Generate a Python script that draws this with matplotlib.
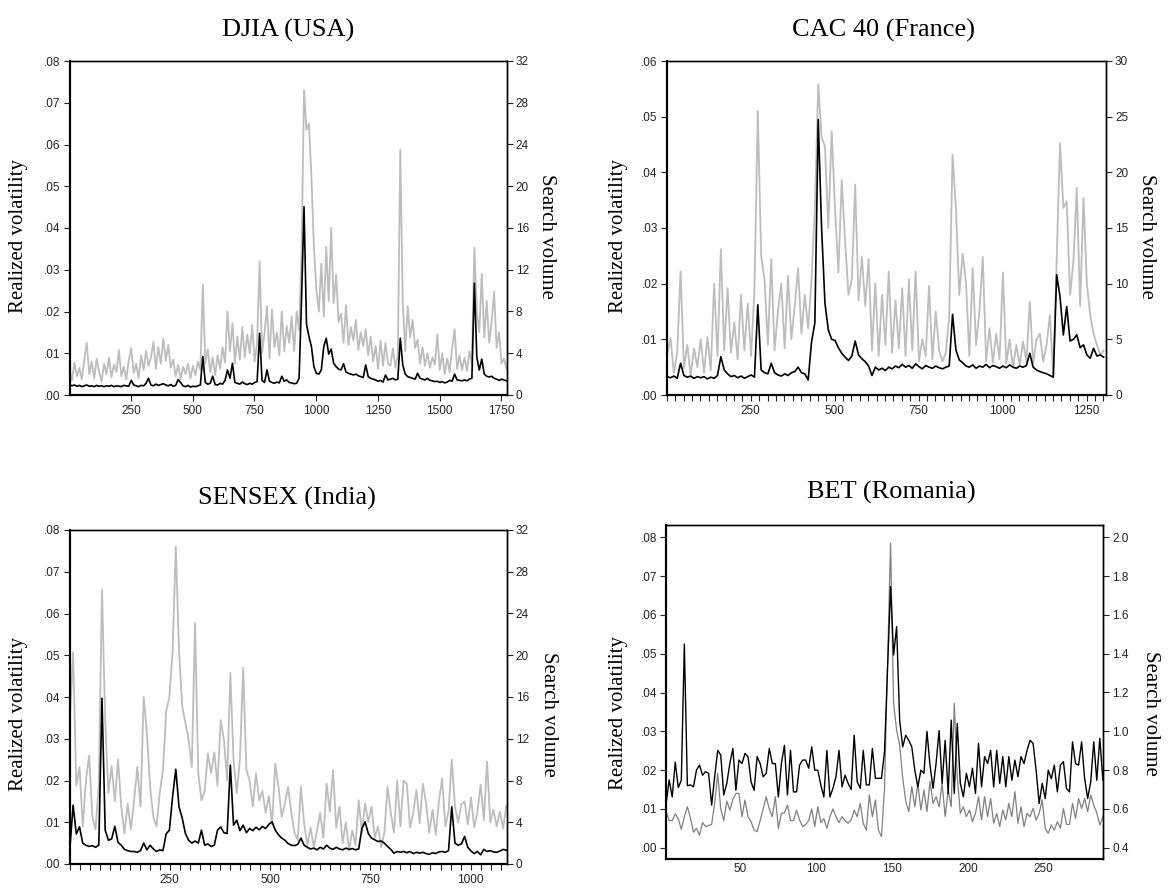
import matplotlib
matplotlib.use("Agg")
import matplotlib.pyplot as plt
from matplotlib.ticker import MultipleLocator, FuncFormatter
import numpy as np

# ---- DJIA (USA): one value every 10 obs, starting at obs 1
djia_step = 10
djia_search = [
    2.5, 1.4, 3.1, 1.8, 2.6, 1.5, 3.4, 5.0, 2.0, 3.2,
    1.6, 3.5, 2.2, 1.3, 3.0, 2.0, 3.6, 1.7, 2.9, 2.2,
    4.3, 1.8, 2.7, 1.5, 3.3, 4.5, 2.1, 3.0, 1.6, 3.8,
    2.4, 4.2, 2.8, 3.6, 5.1, 2.5, 4.6, 3.0, 5.4, 3.3,
    4.8, 2.6, 3.4, 1.8, 2.9, 1.5, 2.7, 2.0, 3.0, 1.6,
    2.8, 1.9, 3.2, 2.4, 10.6, 3.0, 4.4, 2.2, 3.6, 1.9,
    3.8, 2.5, 4.6, 3.1, 8.0, 4.2, 6.9, 3.0, 5.6, 3.4,
    6.5, 3.6, 5.8, 4.0, 6.7, 3.2, 5.0, 12.8, 4.0, 6.0,
    8.5, 3.5, 8.2, 4.6, 6.0, 3.8, 8.0, 4.2, 6.6, 5.0,
    7.5, 4.2, 8.0, 6.2, 13.5, 29.2, 25.4, 26.0, 20.9, 14.2,
    10.1, 8.0, 12.6, 7.5, 14.2, 9.0, 16.0, 8.8, 11.5, 7.0,
    7.8, 5.0, 8.6, 4.8, 6.5, 5.2, 7.2, 4.3, 6.0, 4.7,
    6.3, 3.8, 5.6, 3.2, 4.7, 2.5, 5.2, 2.8, 5.0, 3.0,
    2.8, 4.5, 2.6, 3.8, 23.5, 8.8, 4.2, 8.5, 5.5, 7.2,
    4.5, 5.3, 3.0, 4.6, 2.8, 4.0, 2.6, 3.6, 2.9, 5.8,
    2.4, 4.0, 2.0, 3.5, 2.2, 4.5, 6.3, 2.5, 3.8, 2.4,
    3.6, 2.3, 4.2, 3.0, 14.1, 8.0, 6.0, 11.6, 5.5, 9.0,
    5.0, 7.0, 9.9, 4.5, 6.0, 3.0, 3.5, 2.5,
]
djia_rv = [
    .0025, .0022, .0024, .0021, .0023, .0020, .0022, .0024, .0021, .0022,
    .0020, .0023, .0021, .0022, .0020, .0022, .0021, .0023, .0020, .0022,
    .0021, .0020, .0023, .0022, .0021, .0035, .0024, .0022, .0020, .0023,
    .0022, .0028, .0040, .0024, .0022, .0026, .0023, .0025, .0027, .0024,
    .0022, .0025, .0021, .0023, .0037, .0030, .0022, .0020, .0023, .0019,
    .0021, .0020, .0022, .0024, .0092, .0030, .0026, .0028, .0045, .0025,
    .0024, .0028, .0026, .0035, .0060, .0040, .0076, .0030, .0028, .0026,
    .0031, .0027, .0025, .0028, .0026, .0030, .0032, .0148, .0035, .0030,
    .0060, .0033, .0030, .0028, .0031, .0029, .0045, .0033, .0036, .0030,
    .0029, .0027, .0028, .0040, .0230, .0451, .0170, .0140, .0116, .0068,
    .0052, .0050, .0060, .0116, .0136, .0098, .0110, .0076, .0068, .0062,
    .0060, .0075, .0055, .0052, .0050, .0048, .0050, .0046, .0044, .0042,
    .0072, .0044, .0040, .0038, .0036, .0033, .0035, .0031, .0048, .0036,
    .0038, .0040, .0036, .0038, .0136, .0072, .0050, .0044, .0042, .0040,
    .0038, .0052, .0040, .0038, .0036, .0040, .0035, .0034, .0032, .0033,
    .0030, .0032, .0029, .0031, .0035, .0033, .0050, .0036, .0035, .0034,
    .0036, .0034, .0038, .0040, .0268, .0090, .0060, .0086, .0050, .0045,
    .0043, .0045, .0040, .0038, .0035, .0038, .0036, .0034,
]

# ---- CAC 40 (France): one value every 10 obs
cac_step = 10
cac_search = [
    3.6, 5.1, 2.0, 3.8, 11.1, 2.4, 4.5, 1.8, 4.2, 2.5,
    5.0, 2.0, 5.2, 2.2, 10.0, 3.5, 13.1, 4.0, 9.6, 3.8,
    6.5, 3.2, 9.0, 4.0, 8.2, 3.5, 9.4, 25.5, 12.5, 10.4,
    4.5, 12.2, 4.0, 7.5, 10.0, 4.2, 10.7, 5.0, 8.0, 11.4,
    5.5, 9.0, 6.0, 10.4, 16.8, 27.9, 23.2, 22.3, 15.0, 23.7,
    16.7, 11.0, 19.3, 13.8, 9.0, 10.4, 18.9, 8.5, 12.4, 8.0,
    12.2, 4.0, 10.0, 3.5, 9.0, 4.5, 11.1, 3.8, 8.5, 4.2,
    9.6, 3.5, 10.4, 4.0, 11.1, 3.0, 5.0, 3.5, 9.8, 3.2,
    7.5, 4.0, 3.0, 3.8, 7.0, 21.6, 16.8, 9.0, 12.7, 10.1,
    3.5, 11.4, 4.5, 7.5, 12.4, 3.0, 6.0, 2.9, 5.5, 3.2,
    11.0, 2.8, 5.0, 2.5, 4.5, 2.7, 4.8, 3.0, 8.4, 2.8,
    5.0, 5.5, 3.0, 4.5, 7.2, 1.6, 12.0, 22.6, 16.8, 17.4,
    9.0, 12.0, 18.6, 8.0, 17.7, 10.0, 7.2, 5.5, 4.5, 3.6,
    4.0,
]
cac_rv = [
    .0033, .0031, .0034, .0030, .0057, .0035, .0032, .0034, .0030, .0033,
    .0031, .0033, .0029, .0032, .0030, .0035, .0069, .0045, .0038, .0033,
    .0035, .0031, .0034, .0030, .0033, .0036, .0032, .0162, .0045, .0040,
    .0038, .0057, .0040, .0036, .0034, .0038, .0035, .0040, .0042, .0050,
    .0040, .0038, .0027, .0095, .0130, .0495, .0300, .0165, .0117, .0100,
    .0098, .0085, .0075, .0068, .0062, .0070, .0097, .0072, .0065, .0060,
    .0052, .0035, .0050, .0045, .0048, .0044, .0050, .0047, .0052, .0049,
    .0055, .0050, .0053, .0048, .0056, .0051, .0047, .0053, .0050, .0048,
    .0052, .0049, .0047, .0050, .0052, .0145, .0081, .0063, .0058, .0052,
    .0050, .0054, .0048, .0052, .0050, .0055, .0049, .0053, .0051, .0048,
    .0052, .0049, .0054, .0050, .0048, .0052, .0050, .0053, .0075, .0050,
    .0045, .0042, .0040, .0038, .0035, .0032, .0216, .0177, .0108, .0159,
    .0097, .0100, .0108, .0085, .0090, .0072, .0066, .0084, .0070, .0072,
    .0068,
]

# ---- SENSEX (India): one value every 8 obs
sensex_step = 8
sensex_search = [
    14.0, 20.3, 7.5, 9.3, 3.6, 8.0, 10.4, 4.5, 3.3, 7.7,
    26.3, 13.7, 6.8, 9.4, 6.0, 10.0, 5.5, 2.9, 5.8, 3.3,
    6.0, 9.3, 5.5, 16.0, 12.5, 7.4, 4.5, 3.6, 6.8, 9.0,
    14.6, 16.0, 20.3, 30.4, 20.5, 15.1, 13.5, 11.9, 9.3, 23.1,
    8.7, 6.1, 7.0, 10.6, 8.7, 10.7, 7.5, 13.8, 11.9, 8.0,
    18.3, 9.9, 6.8, 10.1, 18.8, 9.0, 8.0, 5.5, 8.7, 6.1,
    7.0, 4.9, 6.5, 3.8, 9.6, 7.4, 4.5, 5.8, 7.4, 4.9,
    3.0, 2.3, 7.4, 3.9, 1.8, 3.5, 1.6, 3.2, 4.9, 2.5,
    7.7, 5.0, 9.0, 3.5, 5.5, 2.0, 4.0, 1.3, 3.2, 1.8,
    6.1, 3.0, 5.8, 4.0, 5.5, 2.5, 3.6, 1.6, 3.0, 7.4,
    4.9, 3.0, 8.0, 3.6, 8.0, 7.7, 3.5, 4.9, 7.1, 3.9,
    7.7, 5.8, 3.0, 5.2, 2.8, 6.0, 8.2, 3.6, 5.0, 10.0,
    5.5, 4.0, 5.7, 6.0, 3.8, 6.4, 3.5, 5.0, 7.6, 4.2,
    9.8, 4.0, 5.2, 3.6, 5.0, 3.4, 5.6,
]
sensex_rv = [
    .0038, .0141, .0072, .0089, .0050, .0045, .0042, .0044, .0040, .0045,
    .0397, .0081, .0057, .0060, .0090, .0052, .0045, .0035, .0032, .0030,
    .0030, .0028, .0032, .0050, .0034, .0045, .0036, .0030, .0034, .0032,
    .0072, .0081, .0161, .0227, .0137, .0110, .0073, .0057, .0050, .0055,
    .0050, .0081, .0045, .0048, .0042, .0045, .0081, .0089, .0075, .0073,
    .0237, .0093, .0105, .0080, .0093, .0075, .0085, .0080, .0088, .0082,
    .0090, .0085, .0095, .0101, .0081, .0070, .0062, .0057, .0049, .0045,
    .0044, .0047, .0062, .0045, .0040, .0036, .0038, .0034, .0040, .0036,
    .0045, .0038, .0035, .0040, .0036, .0034, .0038, .0035, .0037, .0034,
    .0036, .0085, .0101, .0073, .0062, .0058, .0054, .0055, .0050, .0042,
    .0035, .0026, .0030, .0028, .0030, .0027, .0030, .0025, .0028, .0026,
    .0028, .0025, .0023, .0027, .0025, .0029, .0030, .0028, .0032, .0137,
    .0050, .0045, .0048, .0066, .0040, .0031, .0025, .0030, .0022, .0035,
    .0030, .0032, .0029, .0028, .0031, .0035, .0033,
]

# ---- BET (Romania): one value every 2 obs
bet_step = 2
bet_rv = [
    .0114, .0175, .0131, .0221, .0155, .0174, .0525, .0160, .0162, .0157,
    .0200, .0213, .0187, .0196, .0192, .0110, .0183, .0251, .0239, .0136,
    .0166, .0217, .0256, .0148, .0226, .0217, .0243, .0235, .0170, .0148,
    .0235, .0217, .0183, .0192, .0256, .0217, .0217, .0131, .0217, .0264,
    .0136, .0251, .0144, .0144, .0213, .0226, .0226, .0205, .0260, .0200,
    .0200, .0162, .0131, .0251, .0131, .0153, .0183, .0251, .0157,
    .0187, .0166, .0150, .0290, .0170, .0153, .0251, .0162, .0162, .0256,
    .0179, .0179, .0179, .0247, .0458, .0673, .0497, .0570, .0329, .0260,
    .0290, .0277, .0260, .0200, .0157, .0200, .0192, .0300, .0213, .0153,
    .0217, .0302, .0166, .0277, .0140, .0329, .0140, .0320, .0166, .0131,
    .0192, .0157, .0205, .0140, .0269, .0157, .0235, .0217, .0251, .0157,
    .0251, .0166, .0235, .0157, .0235, .0174, .0226, .0183, .0235, .0217,
    .0251, .0277, .0269, .0200, .0114, .0166, .0127, .0200, .0178, .0213,
    .0144, .0213, .0222, .0153, .0144, .0273, .0217, .0213, .0273, .0178,
    .0127, .0170, .0273, .0174, .0282, .0174,
]
bet_search = [
    .586, .540, .540, .575, .550, .495, .560, .611, .555, .480,
    .500, .466, .530, .509, .515, .520, .630, .783, .600, .540,
    .640, .594, .650, .680, .680, .560, .646, .560, .534, .491,
    .483, .540, .600, .663, .600, .560, .663, .500, .577, .580,
    .620, .540, .540, .594, .543, .509, .520, .540, .600, .510,
    .611, .530, .550, .500, .560, .600, .560, .530, .560,
    .540, .526, .543, .594, .560, .629, .526, .491, .672, .560,
    .646, .491, .457, .700, 1.350, 1.969, 1.144, 1.006, .930, .760,
    .640, .586, .715, .611, .732, .594, .697, .586, .741, .629,
    .663, .611, .732, .560, .697, .611, 1.144, .766, .577, .611,
    .560, .594, .534, .577, .663, .543, .663, .560, .654, .526,
    .577, .509, .594, .543, .629, .560, .689, .526, .611, .509,
    .577, .560, .603, .543, .577, .646, .500, .474, .517, .490,
    .534, .500, .603, .520, .520, .629, .551, .654, .603, .654,
    .586, .672, .620, .580, .517, .560,
]

plt.rcParams["font.family"] = ["Liberation Sans", "DejaVu Sans"]
serif = ["Liberation Serif", "DejaVu Serif"]

fig = plt.figure(figsize=(11.69, 8.89), dpi=100)


def dot_fmt(v, pos):
    return ("%.2f" % v)[1:]


def draw_panel(rect, step, rv, sv, title, title_xy, lab_left_xy, lab_right_xy,
               xlim, xmajor, xminor, rv_ticks, rv_lim, sv_ticks, sv_lim, sv_fmt,
               gray="#bdbdbd", gray_lw=1.3, black_lw=1.2, xtick_len=4.5):
    ax = fig.add_axes(rect)
    ax2 = ax.twinx()
    x_sv = 1 + step * np.arange(len(sv))
    x_rv = 1 + step * np.arange(len(rv))
    ax2.plot(x_sv, sv, color=gray, lw=gray_lw)
    ax.plot(x_rv, rv, color="black", lw=black_lw)
    # black series drawn above the gray one
    ax.set_zorder(ax2.get_zorder() + 1)
    ax.patch.set_visible(False)

    ax.set_xlim(*xlim)
    ax.set_xticks(xmajor)
    if xminor:
        ax.xaxis.set_minor_locator(MultipleLocator(xminor))
    ax.set_ylim(*rv_lim)
    ax.set_yticks(rv_ticks)
    ax.yaxis.set_major_formatter(FuncFormatter(dot_fmt))
    ax2.set_ylim(*sv_lim)
    ax2.set_yticks(sv_ticks)
    ax2.yaxis.set_major_formatter(FuncFormatter(lambda v, p: sv_fmt % v))

    for a in (ax, ax2):
        a.tick_params(axis="both", which="both", direction="out", length=4.5,
                      width=0.8, labelsize=8.5, pad=2, colors="#222222",
                      labelcolor="#222222")
        for side in ("top", "right"):
            a.spines[side].set_linewidth(1.0)
        for side in ("left", "bottom"):
            a.spines[side].set_linewidth(1.5)
    ax.tick_params(axis="x", which="both", length=xtick_len, pad=3)

    fig.text(title_xy[0], title_xy[1], title, ha="center", va="center",
             fontsize=19, family=serif)
    fig.text(lab_left_xy[0], lab_left_xy[1], "Realized volatility", rotation=90,
             ha="center", va="center", fontsize=15, family=serif)
    fig.text(lab_right_xy[0], lab_right_xy[1], "Search volume", rotation=270,
             ha="center", va="center", fontsize=15, family=serif)
    return ax, ax2


W, H = 1169.0, 889.0

draw_panel([69.5 / W, 1 - 395 / H, 437.2 / W, 334 / H], djia_step, djia_rv, djia_search,
           "DJIA (USA)", (288 / W, 1 - 30 / H), (18.5 / W, 1 - 236 / H), (547 / W, 1 - 236 / H),
           (1, 1772), [250, 500, 750, 1000, 1250, 1500, 1750], None,
           np.arange(0, 0.0801, 0.01), (0, 0.08), np.arange(0, 33, 4), (0, 32), "%d")

draw_panel([666.8 / W, 1 - 395 / H, 439.2 / W, 334 / H], cac_step, cac_rv, cac_search,
           "CAC 40 (France)", (884 / W, 1 - 30 / H), (619 / W, 1 - 236 / H), (1147 / W, 1 - 236 / H),
           (0, 1308), [250, 500, 750, 1000, 1250], 25,
           np.arange(0, 0.0601, 0.01), (0, 0.06), np.arange(0, 31, 5), (0, 30), "%d")

draw_panel([69.5 / W, 1 - 864 / H, 437.2 / W, 334 / H], sensex_step, sensex_rv, sensex_search,
           "SENSEX (India)", (287 / W, 1 - 498 / H), (18.5 / W, 1 - 714 / H), (548 / W, 1 - 714 / H),
           (0, 1090), [250, 500, 750, 1000], 25,
           np.arange(0, 0.0801, 0.01), (0, 0.08), np.arange(0, 33, 4), (0, 32), "%d")

draw_panel([666.3 / W, 1 - 859 / H, 437.0 / W, 334 / H], bet_step, bet_rv, bet_search,
           "BET (Romania)", (891 / W, 1 - 492 / H), (619 / W, 1 - 713 / H), (1150 / W, 1 - 713 / H),
           (1.1, 289.3), [50, 100, 150, 200, 250], None,
           np.arange(0, 0.0801, 0.01), (-0.0029, 0.0832), np.arange(0.4, 2.01, 0.2), (0.342, 2.063), "%.1f",
           gray="#808080", gray_lw=0.9, black_lw=1.0, xtick_len=0)

fig.savefig("out.png", dpi=100)
